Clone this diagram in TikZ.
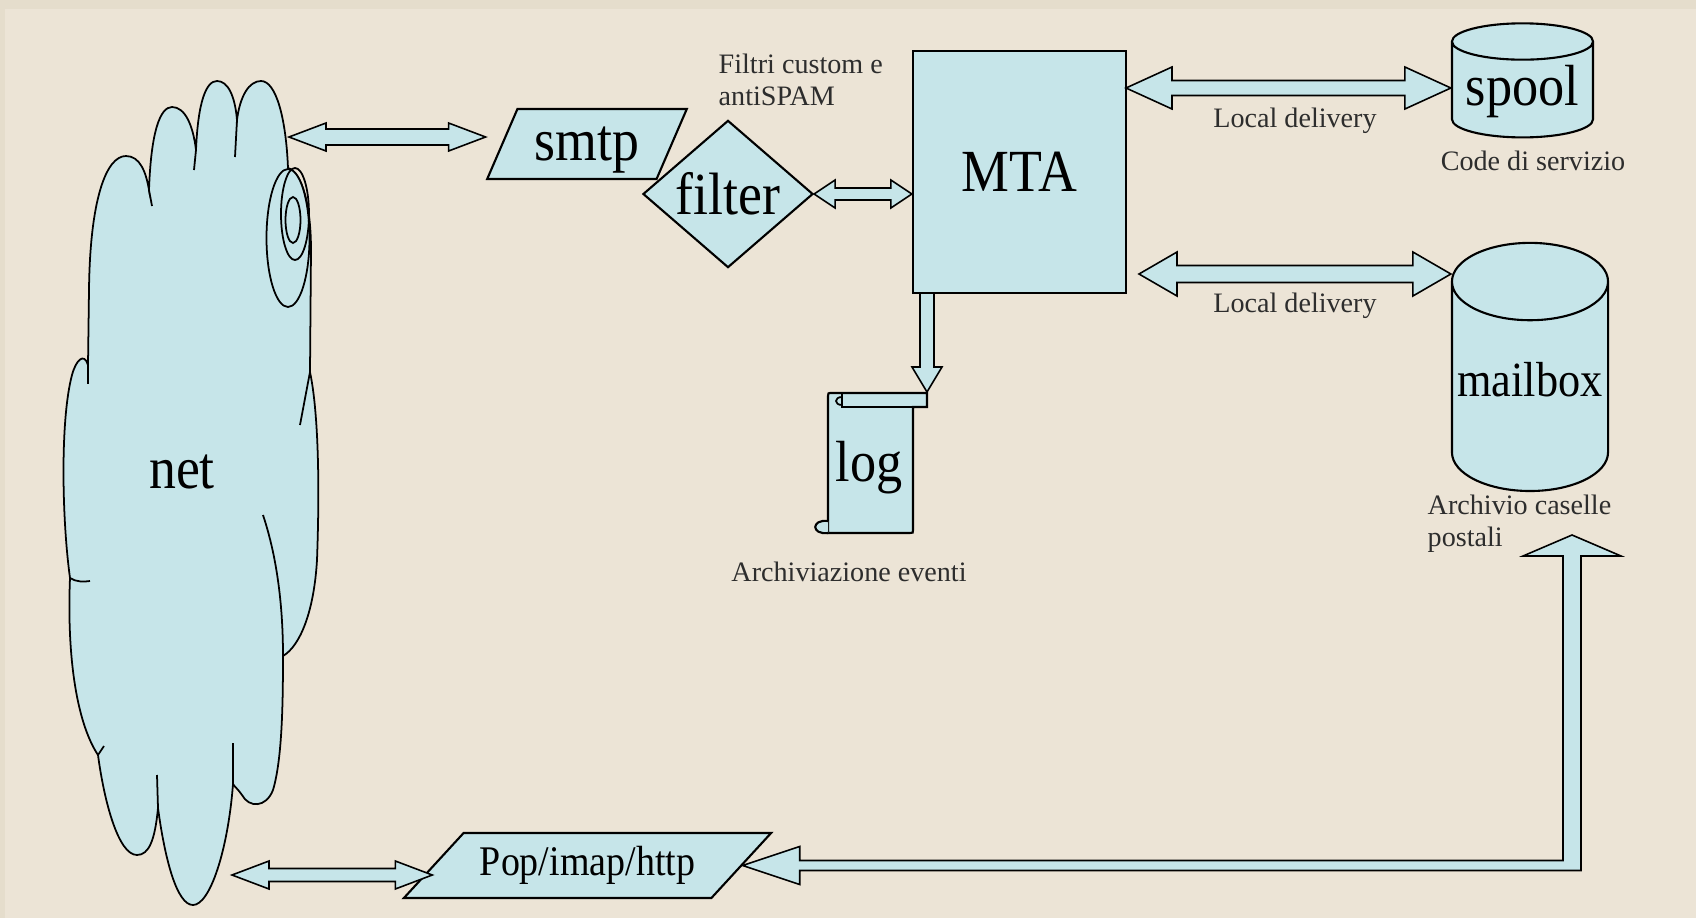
\documentclass[tikz,border=0pt]{standalone}
\usepackage{fontspec}
\setmainfont{Liberation Serif}
\newfontfamily\condserif[FakeStretch=0.9]{Liberation Serif}
\usetikzlibrary{calc,shapes.geometric}
\definecolor{paper}{RGB}{236,228,214}
\definecolor{paperedge}{RGB}{229,221,204}
\definecolor{boxfill}{RGB}{198,229,233}
\definecolor{inkgray}{RGB}{45,45,45}
\newcommand{\dblarrow}[5]{%
  \draw [blockarrow] (#1) -- ++(#5,-#4) -- ++(0,#4-#3) -- ($(#2 |- #1)+(-#5,-#3)$) -- ++(0,#3-#4) -- (#2 |- #1)
    -- ++(-#5,#4) -- ++(0,#3-#4) -- ($(#1)+(#5,#3)$) -- ++(0,#4-#3) -- cycle;}

\begin{document}
\begin{tikzpicture}[x=0.01cm,y=-0.01cm]
\tikzstyle{shapebox}=[draw=black,fill=boxfill,line width=0.6pt]
\tikzstyle{blockarrow}=[draw=black,fill=boxfill,line width=0.45pt,line join=miter]
\tikzstyle{cloudline}=[draw=black,fill=boxfill,line width=0.5pt]
\tikzstyle{crease}=[draw=black,line width=0.5pt]
\tikzstyle{bigtext}=[font=\condserif\fontsize{17}{20}\selectfont]
\tikzstyle{smalltext}=[font=\fontsize{8}{9.2}\selectfont,text=inkgray,inner sep=0pt]
\tikzstyle{slanted}=[shapebox,trapezium,trapezium stretches=true]
\tikzstyle{drum}=[shapebox,cylinder,shape border rotate=90]
\useasboundingbox (0,0) rectangle (1696,918);
\fill [paperedge] (0,0) rectangle (1696,918);
\fill [paper] (5,9) rectangle (1696,918);

\draw [cloudline] (88,365) -- (89,290)
  .. controls (90,200) and (106,156) .. (126,156)
  .. controls (140,156) and (146,172) .. (149,190)
  .. controls (151,132) and (160,107) .. (172,107)
  .. controls (185,107) and (193,125) .. (196,150)
  .. controls (198,102) and (206,81) .. (217,81)
  .. controls (228,81) and (235,96) .. (237,120)
  .. controls (240,96) and (249,81) .. (261,81)
  .. controls (276,81) and (286,118) .. (288,168)
  .. controls (302,172) and (311,205) .. (311,250)
  -- (310,372)
  .. controls (318,410) and (320,480) .. (317,560)
  .. controls (314,612) and (300,646) .. (283,656)
  .. controls (283,705) and (282,760) .. (273,790)
  .. controls (266,808) and (249,808) .. (242,795)
  .. controls (237,788) and (234,786) .. (233,784)
  .. controls (228,850) and (210,905) .. (193,905)
  .. controls (177,905) and (165,860) .. (158,808)
  .. controls (155,840) and (149,855) .. (137,855)
  .. controls (118,855) and (104,800) .. (98,755)
  .. controls (75,720) and (67,650) .. (70,578)
  .. controls (62,520) and (60,420) .. (72,375)
  .. controls (76,360) and (84,352) .. (88,365)
  -- cycle;
\draw [crease] (149,190) -- (152,206);
\draw [crease] (196,150) -- (194,170);
\draw [crease] (237,120) -- (235,157);
\draw [crease] (88,365) -- (88,384);
\draw [crease] (310,372) -- (300,425);
\draw [crease] (263,515) .. controls (278,560) and (283,610) .. (283,656);
\draw [crease] (233,784) -- (233,743);
\draw [crease] (158,808) -- (157,775);
\draw [crease] (98,755) -- (104,746);
\draw [crease] (70,578) .. controls (76,582) and (84,582) .. (90,581);
\draw [cloudline] (288,238) ellipse [x radius=21.5,y radius=69];
\draw [crease] (295,214) ellipse [x radius=14,y radius=46];
\draw [crease] (293,220) ellipse [x radius=7.5,y radius=23];
\node [bigtext] (net) at (182,472) {net};

\node [slanted,trapezium left angle=64,trapezium right angle=116,minimum width=2cm,minimum height=0.7cm,bigtext,text depth=0pt] (smtp) at (587,144) {smtp};
\node [shapebox,diamond,minimum width=1.7cm,minimum height=1.42cm,inner sep=0pt,bigtext] (filter) at (728,194) {filter};
\node [shapebox,rectangle,minimum width=2.13cm,minimum height=2.42cm,bigtext] (MTA) at (1019.5,172) {MTA};
\node [drum,minimum width=1.41cm,minimum height=1.14cm,shape aspect=1.55,label={[bigtext,font=\condserif\fontsize{16.5}{20}\selectfont,yshift=0.035cm]center:spool}] (spool) at (1522.5,95) {};
\node [drum,minimum width=1.56cm,minimum height=2.48cm,shape aspect=3.3,label={[bigtext,font=\condserif\fontsize{14}{16}\selectfont,yshift=0.17cm]center:mailbox}] (mailbox) at (1530,397) {};
\node [slanted,trapezium left angle=47,trapezium right angle=133,minimum width=3.69cm,minimum height=0.65cm,bigtext,font=\condserif\fontsize{12}{14}\selectfont] (pop) at (587.5,865.5) {Pop/imap/http};

\draw [shapebox] (832,393) -- (927,393) -- (927,407) -- (913,407) -- (913,530) .. controls (913,533) .. (910,533)
  -- (828,533) -- (828,396) .. controls (828,393) .. (832,393) -- cycle;
\draw [crease] (913,407) -- (842,407) -- (842,393);
\draw [crease] (842,397) .. controls (834,397) and (834,405) .. (842,405);
\draw [shapebox] (828,521) .. controls (811,519) and (811,535) .. (828,533);
\node [bigtext,font=\condserif\fontsize{16.5}{20}\selectfont] (log) at (869,468) {log};

\node [smalltext,align=left,anchor=north west] (filtri) at (718,53) {Filtri custom e\\antiSPAM};
\node [smalltext,anchor=base] (localup) at (1295,127) {Local delivery};
\node [smalltext,anchor=base] (locallow) at (1295,312) {Local delivery};
\node [smalltext,anchor=base] (code) at (1533,170) {Code di servizio};
\node [smalltext,align=left,anchor=north west] (archivio) at (1427,494) {Archivio caselle\\postali};
\node [smalltext,anchor=base] (eventi) at (849,581) {Archiviazione eventi};

\coordinate (netup) at (289,137);
\coordinate (netlow) at (232,875);
\coordinate (mtaup) at (1126,88);
\coordinate (mtalow) at (1139,274);
\coordinate (postal) at (1572,535);
\coordinate (logtop) at (927,392);

\dblarrow{netup}{smtp.bottom left corner}{8}{14}{37}
\dblarrow{filter.east}{MTA.west}{6}{14}{21}
\dblarrow{mtaup}{spool.west}{7.5}{21}{46}
\dblarrow{mtalow}{mailbox.west}{8.5}{22}{38}
\dblarrow{netlow}{pop.west}{6.5}{14}{37}
\draw [blockarrow] ($(logtop |- MTA.south)+(-7,0)$) -- ($(logtop)+(-7,-25)$) -- ++(-8,0) -- (logtop) -- ++(15,-25) -- ++(-8,0)
  -- ($(logtop |- MTA.south)+(7,0)$);
\draw [blockarrow] (pop.east) -- ++(57,-19) -- ++(0,14) -- ($(postal |- pop.east)+(-9,-5)$) -- ($(postal)+(-9,21)$) -- ++(-40,0)
  -- (postal) -- ($(postal)+(49,21)$) -- ++(-40,0) -- ($(postal |- pop.east)+(9,5)$) -- ($(pop.east)+(57,5)$) -- ++(0,14) -- cycle;
\end{tikzpicture}
\end{document}
